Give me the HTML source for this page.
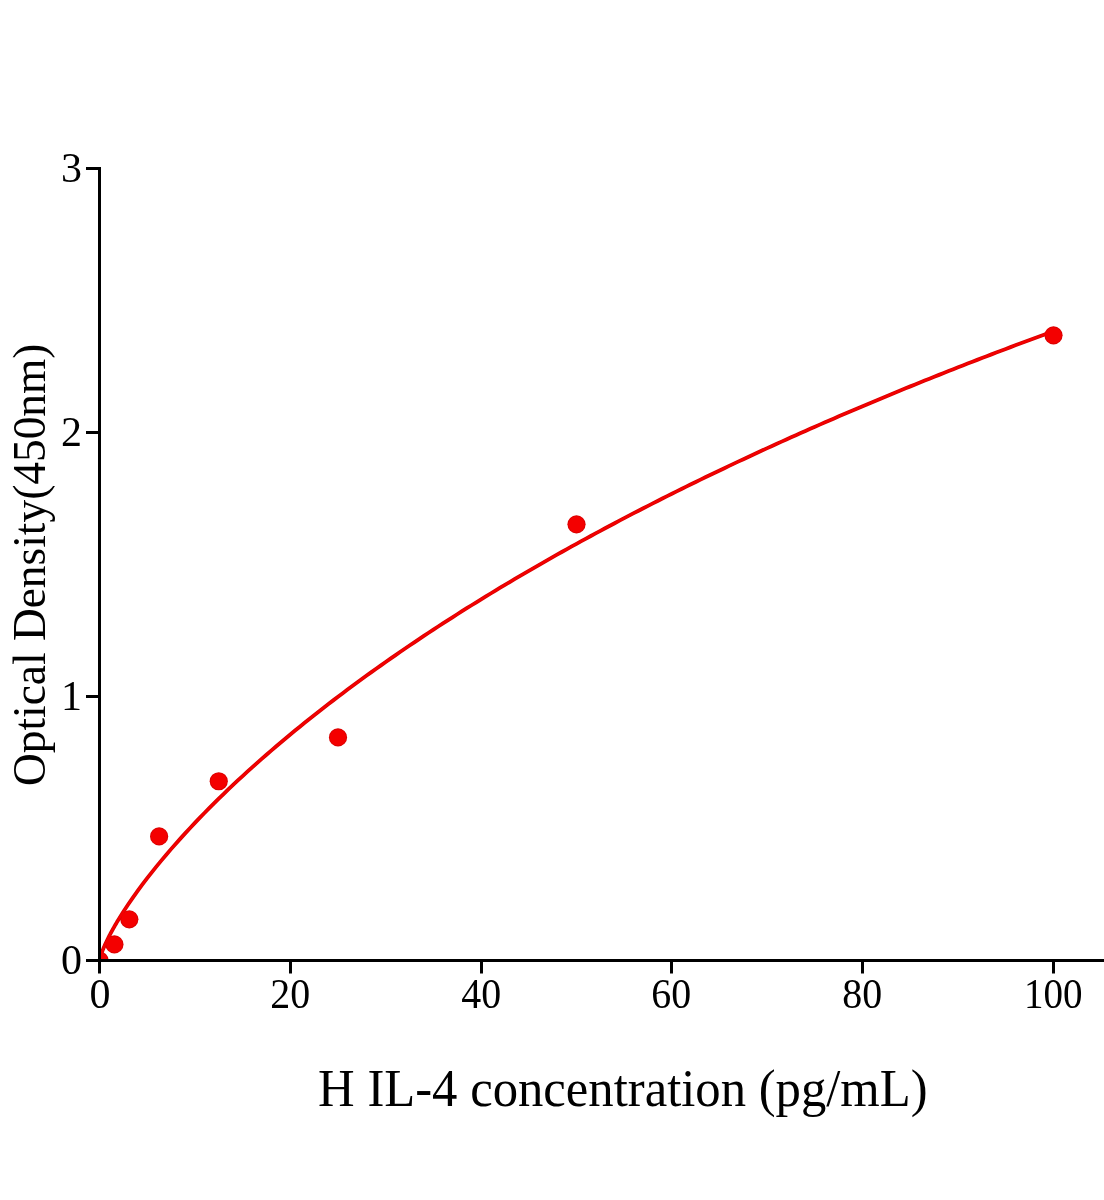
<!DOCTYPE html>
<html><head><meta charset="utf-8"><style>
html,body{margin:0;padding:0;background:#fff;}
svg{display:block;will-change:transform;font-family:"Liberation Serif",serif;}
</style></head><body>
<svg width="1104" height="1200" viewBox="0 0 1104 1200">
<defs><clipPath id="pa"><rect x="100" y="0" width="1004" height="960"/></clipPath></defs>
<g clip-path="url(#pa)">
<polyline points="99.50,960.50 99.98,958.21 100.45,956.52 100.93,955.01 101.41,953.62 101.89,952.31 102.36,951.05 102.84,949.84 103.32,948.67 103.79,947.53 104.27,946.43 104.75,945.34 105.22,944.28 105.70,943.24 106.18,942.22 106.66,941.22 107.13,940.23 107.61,939.25 108.09,938.29 108.56,937.34 109.04,936.41 109.52,935.48 109.99,934.57 110.47,933.66 110.95,932.77 111.42,931.88 111.90,931.00 112.38,930.13 112.86,929.27 113.33,928.41 113.81,927.57 114.29,926.73 114.76,925.89 115.24,925.06 115.72,924.24 116.19,923.43 116.67,922.62 117.15,921.81 117.63,921.01 118.10,920.22 118.58,919.43 123.35,911.79 128.12,904.54 132.89,897.59 137.66,890.91 142.43,884.45 147.20,878.18 151.97,872.09 156.74,866.15 161.51,860.35 166.28,854.68 171.05,849.13 175.82,843.70 180.59,838.36 185.36,833.12 190.13,827.97 194.90,822.90 199.67,817.91 204.44,813.00 209.21,808.17 213.98,803.40 218.75,798.69 223.52,794.05 228.29,789.47 233.06,784.95 237.83,780.48 242.60,776.07 247.37,771.71 252.14,767.40 256.91,763.13 261.68,758.91 266.45,754.74 271.22,750.61 275.99,746.52 280.76,742.48 285.53,738.47 290.30,734.50 295.07,730.58 299.84,726.68 304.61,722.82 309.38,719.00 314.15,715.21 318.92,711.46 323.69,707.74 328.46,704.04 333.23,700.38 338.00,696.75 342.77,693.15 347.54,689.58 352.31,686.04 357.08,682.52 361.85,679.03 366.62,675.57 371.39,672.14 376.16,668.73 380.93,665.34 385.70,661.98 390.47,658.64 395.24,655.33 400.01,652.04 404.78,648.78 409.55,645.53 414.32,642.31 419.09,639.11 423.86,635.93 428.63,632.77 433.40,629.64 438.17,626.52 442.94,623.42 447.71,620.35 452.48,617.29 457.25,614.25 462.02,611.23 466.79,608.23 471.56,605.25 476.33,602.29 481.10,599.34 485.87,596.41 490.64,593.50 495.41,590.61 500.18,587.73 504.95,584.87 509.72,582.02 514.49,579.19 519.26,576.38 524.03,573.58 528.80,570.80 533.57,568.04 538.34,565.29 543.11,562.55 547.88,559.83 552.65,557.12 557.42,554.43 562.19,551.76 566.96,549.09 571.73,546.44 576.50,543.81 581.27,541.18 586.04,538.58 590.81,535.98 595.58,533.40 600.35,530.83 605.12,528.27 609.89,525.73 614.66,523.20 619.43,520.68 624.20,518.17 628.97,515.68 633.74,513.19 638.51,510.72 643.28,508.27 648.05,505.82 652.82,503.38 657.59,500.96 662.36,498.55 667.13,496.15 671.90,493.76 676.67,491.38 681.44,489.01 686.21,486.65 690.98,484.30 695.75,481.97 700.52,479.64 705.29,477.33 710.06,475.02 714.83,472.73 719.60,470.44 724.37,468.17 729.14,465.90 733.91,463.65 738.68,461.40 743.45,459.16 748.22,456.94 752.99,454.72 757.76,452.51 762.53,450.32 767.30,448.13 772.07,445.95 776.84,443.78 781.61,441.61 786.38,439.46 791.15,437.32 795.92,435.18 800.69,433.06 805.46,430.94 810.23,428.83 815.00,426.73 819.77,424.63 824.54,422.55 829.31,420.47 834.08,418.41 838.85,416.35 843.62,414.29 848.39,412.25 853.16,410.21 857.93,408.19 862.70,406.17 867.47,404.15 872.24,402.15 877.01,400.15 881.78,398.16 886.55,396.18 891.32,394.21 896.09,392.24 900.86,390.28 905.63,388.33 910.40,386.38 915.17,384.44 919.94,382.51 924.71,380.59 929.48,378.67 934.25,376.76 939.02,374.86 943.79,372.97 948.56,371.08 953.33,369.19 958.10,367.32 962.87,365.45 967.64,363.59 972.41,361.73 977.18,359.88 981.95,358.04 986.72,356.20 991.49,354.37 996.26,352.55 1001.03,350.73 1005.80,348.92 1010.57,347.12 1015.34,345.32 1020.11,343.53 1024.88,341.74 1029.65,339.96 1034.42,338.19 1039.19,336.42 1043.96,334.66 1048.73,332.90 1053.50,331.15" fill="none" stroke="#d80000" stroke-width="3.8" stroke-linejoin="round"/>
<g fill="#d80000">
<circle cx="99.50" cy="960.50" r="9.1"/>
<circle cx="114.41" cy="944.40" r="9.1"/>
<circle cx="129.31" cy="919.32" r="9.1"/>
<circle cx="159.12" cy="836.42" r="9.1"/>
<circle cx="218.75" cy="781.24" r="9.1"/>
<circle cx="338.00" cy="737.42" r="9.1"/>
<circle cx="576.50" cy="524.37" r="9.1"/>
<circle cx="1053.50" cy="335.35" r="9.1"/>
</g>
<polyline points="99.50,960.50 99.98,958.21 100.45,956.52 100.93,955.01 101.41,953.62 101.89,952.31 102.36,951.05 102.84,949.84 103.32,948.67 103.79,947.53 104.27,946.43 104.75,945.34 105.22,944.28 105.70,943.24 106.18,942.22 106.66,941.22 107.13,940.23 107.61,939.25 108.09,938.29 108.56,937.34 109.04,936.41 109.52,935.48 109.99,934.57 110.47,933.66 110.95,932.77 111.42,931.88 111.90,931.00 112.38,930.13 112.86,929.27 113.33,928.41 113.81,927.57 114.29,926.73 114.76,925.89 115.24,925.06 115.72,924.24 116.19,923.43 116.67,922.62 117.15,921.81 117.63,921.01 118.10,920.22 118.58,919.43 123.35,911.79 128.12,904.54 132.89,897.59 137.66,890.91 142.43,884.45 147.20,878.18 151.97,872.09 156.74,866.15 161.51,860.35 166.28,854.68 171.05,849.13 175.82,843.70 180.59,838.36 185.36,833.12 190.13,827.97 194.90,822.90 199.67,817.91 204.44,813.00 209.21,808.17 213.98,803.40 218.75,798.69 223.52,794.05 228.29,789.47 233.06,784.95 237.83,780.48 242.60,776.07 247.37,771.71 252.14,767.40 256.91,763.13 261.68,758.91 266.45,754.74 271.22,750.61 275.99,746.52 280.76,742.48 285.53,738.47 290.30,734.50 295.07,730.58 299.84,726.68 304.61,722.82 309.38,719.00 314.15,715.21 318.92,711.46 323.69,707.74 328.46,704.04 333.23,700.38 338.00,696.75 342.77,693.15 347.54,689.58 352.31,686.04 357.08,682.52 361.85,679.03 366.62,675.57 371.39,672.14 376.16,668.73 380.93,665.34 385.70,661.98 390.47,658.64 395.24,655.33 400.01,652.04 404.78,648.78 409.55,645.53 414.32,642.31 419.09,639.11 423.86,635.93 428.63,632.77 433.40,629.64 438.17,626.52 442.94,623.42 447.71,620.35 452.48,617.29 457.25,614.25 462.02,611.23 466.79,608.23 471.56,605.25 476.33,602.29 481.10,599.34 485.87,596.41 490.64,593.50 495.41,590.61 500.18,587.73 504.95,584.87 509.72,582.02 514.49,579.19 519.26,576.38 524.03,573.58 528.80,570.80 533.57,568.04 538.34,565.29 543.11,562.55 547.88,559.83 552.65,557.12 557.42,554.43 562.19,551.76 566.96,549.09 571.73,546.44 576.50,543.81 581.27,541.18 586.04,538.58 590.81,535.98 595.58,533.40 600.35,530.83 605.12,528.27 609.89,525.73 614.66,523.20 619.43,520.68 624.20,518.17 628.97,515.68 633.74,513.19 638.51,510.72 643.28,508.27 648.05,505.82 652.82,503.38 657.59,500.96 662.36,498.55 667.13,496.15 671.90,493.76 676.67,491.38 681.44,489.01 686.21,486.65 690.98,484.30 695.75,481.97 700.52,479.64 705.29,477.33 710.06,475.02 714.83,472.73 719.60,470.44 724.37,468.17 729.14,465.90 733.91,463.65 738.68,461.40 743.45,459.16 748.22,456.94 752.99,454.72 757.76,452.51 762.53,450.32 767.30,448.13 772.07,445.95 776.84,443.78 781.61,441.61 786.38,439.46 791.15,437.32 795.92,435.18 800.69,433.06 805.46,430.94 810.23,428.83 815.00,426.73 819.77,424.63 824.54,422.55 829.31,420.47 834.08,418.41 838.85,416.35 843.62,414.29 848.39,412.25 853.16,410.21 857.93,408.19 862.70,406.17 867.47,404.15 872.24,402.15 877.01,400.15 881.78,398.16 886.55,396.18 891.32,394.21 896.09,392.24 900.86,390.28 905.63,388.33 910.40,386.38 915.17,384.44 919.94,382.51 924.71,380.59 929.48,378.67 934.25,376.76 939.02,374.86 943.79,372.97 948.56,371.08 953.33,369.19 958.10,367.32 962.87,365.45 967.64,363.59 972.41,361.73 977.18,359.88 981.95,358.04 986.72,356.20 991.49,354.37 996.26,352.55 1001.03,350.73 1005.80,348.92 1010.57,347.12 1015.34,345.32 1020.11,343.53 1024.88,341.74 1029.65,339.96 1034.42,338.19 1039.19,336.42 1043.96,334.66 1048.73,332.90 1053.50,331.15" fill="none" stroke="#f40000" stroke-width="2.2" stroke-linejoin="round"/>
<g fill="#f40000">
<circle cx="99.50" cy="960.50" r="8.2"/>
<circle cx="114.41" cy="944.40" r="8.2"/>
<circle cx="129.31" cy="919.32" r="8.2"/>
<circle cx="159.12" cy="836.42" r="8.2"/>
<circle cx="218.75" cy="781.24" r="8.2"/>
<circle cx="338.00" cy="737.42" r="8.2"/>
<circle cx="576.50" cy="524.37" r="8.2"/>
<circle cx="1053.50" cy="335.35" r="8.2"/>
</g>
</g>
<g stroke="#000" stroke-width="3" fill="none">
<line x1="99.5" y1="167" x2="99.5" y2="962"/>
<line x1="86" y1="960.5" x2="1104" y2="960.5"/>
<line x1="99.5" y1="959" x2="99.5" y2="973.5"/><line x1="290.5" y1="959" x2="290.5" y2="973.5"/><line x1="481.5" y1="959" x2="481.5" y2="973.5"/><line x1="671.5" y1="959" x2="671.5" y2="973.5"/><line x1="862.5" y1="959" x2="862.5" y2="973.5"/><line x1="1053.5" y1="959" x2="1053.5" y2="973.5"/><line x1="86" y1="960.5" x2="101" y2="960.5"/><line x1="86" y1="696.5" x2="101" y2="696.5"/><line x1="86" y1="432.5" x2="101" y2="432.5"/><line x1="86" y1="168.5" x2="101" y2="168.5"/>
</g>
<g font-size="42" fill="#000">
<text transform="translate(100.0,1008) scale(1,1)" text-anchor="middle">0</text><text transform="translate(290.3,1008) scale(0.95,1)" text-anchor="middle">20</text><text transform="translate(481.3,1008) scale(0.95,1)" text-anchor="middle">40</text><text transform="translate(671.3,1008) scale(0.95,1)" text-anchor="middle">60</text><text transform="translate(862.3,1008) scale(0.95,1)" text-anchor="middle">80</text><text transform="translate(1053.2,1008) scale(0.93,1)" text-anchor="middle">100</text>
<text x="82" y="974.0" text-anchor="end">0</text><text x="82" y="710.0" text-anchor="end">1</text><text x="82" y="446.0" text-anchor="end">2</text><text x="82" y="182.0" text-anchor="end">3</text>
</g>
<text transform="translate(318.1,1105.8) scale(0.977,1)" font-size="51.9" fill="#000">H IL-4 concentration (pg/mL)</text>
<text transform="translate(44.8,786) rotate(-90)" font-size="45.4" fill="#000">Optical Density(450nm)</text>
</svg>
</body></html>
